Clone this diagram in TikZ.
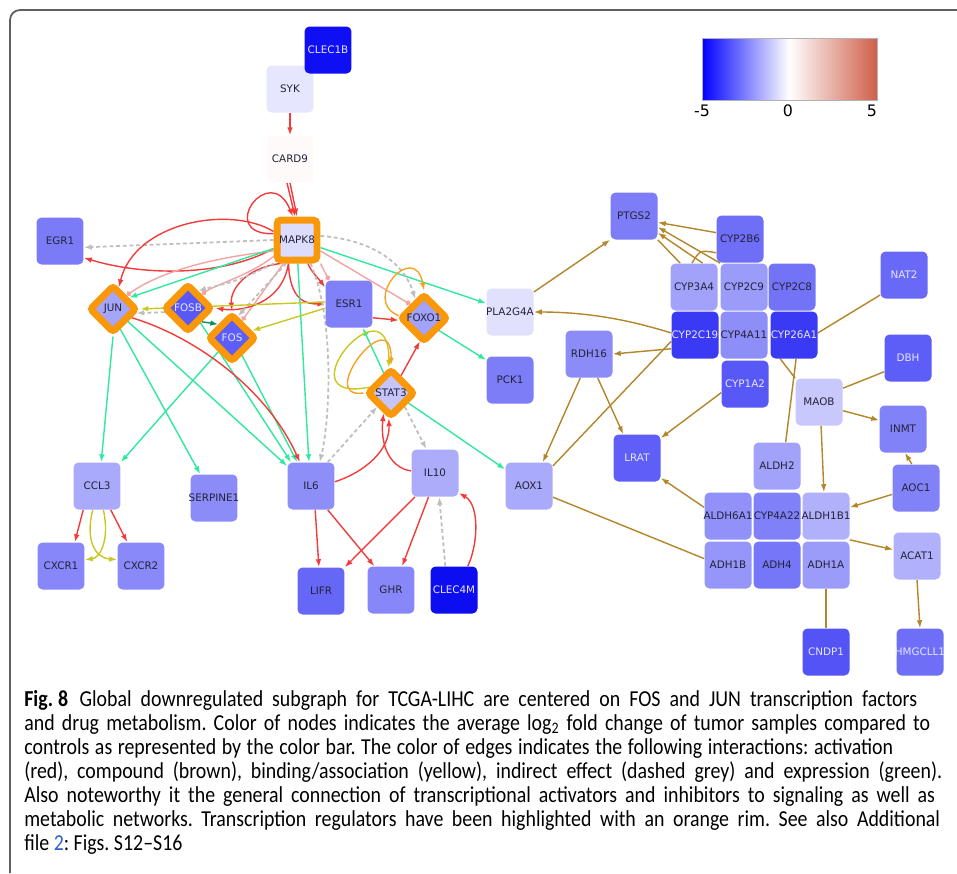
\documentclass[tikz,border=0pt]{standalone}
\usepackage{fontspec}
\newfontfamily\nodefont{DejaVu Sans}
\newfontfamily\capfont[FakeStretch=0.87]{Carlito}
\usetikzlibrary{shapes.geometric,arrows.meta,backgrounds}
\definecolor{nb}{HTML}{0505F2}
\definecolor{rim}{HTML}{F8980A}
\definecolor{actred}{HTML}{F23C3C}
\definecolor{actpink}{HTML}{F4A3A3}
\definecolor{exprgreen}{HTML}{30E89E}
\definecolor{exprdark}{HTML}{138A62}
\definecolor{bindyellow}{HTML}{C9C723}
\definecolor{looporange}{HTML}{F5A324}
\definecolor{indgrey}{HTML}{BEBEBE}
\definecolor{compbrown}{HTML}{B3862A}
\definecolor{cbred}{HTML}{CF5F4A}
\definecolor{linkblue}{HTML}{2F5FD0}
\definecolor{nodetext}{HTML}{23233A}
\newcommand\capline[2]{\makebox[#1cm][s]{#2}}

\begin{document}
\begin{tikzpicture}[x=0.02cm, y=-0.02cm,
  >={Latex[length=4.5pt,width=3.2pt]},
  gene/.style={rectangle, rounded corners=0.1cm, minimum size=0.94cm, inner sep=0pt,
    text=nodetext, font=\nodefont\fontsize{5.9}{6}\selectfont,
    execute at begin node={\hbox to 0pt\bgroup\hss}, execute at end node={\hss\egroup}},
  invtext/.style={text={rgb,255:red,228;green,228;blue,255}},
  regsq/.style={gene, draw=rim, line width=0.14cm, minimum size=0.8cm, rounded corners=0.08cm},
  regdia/.style={gene, diamond, aspect=1, draw=rim, line width=0.14cm, minimum size=0.96cm, rounded corners=0.06cm},
  lnk/.style={line width=0.8pt},
  act/.style={lnk, draw=actred, ->},
  actdot/.style={lnk, draw=actpink, -{Circle[length=3pt]}},
  expr/.style={lnk, draw=exprgreen, ->},
  darkexpr/.style={lnk, draw=exprdark, ->},
  bind/.style={lnk, draw=bindyellow, ->},
  loopst/.style={lnk, draw=looporange, ->},
  indir/.style={line width=1pt, draw=indgrey, dash pattern=on 2.2pt off 1.6pt, ->},
  comp/.style={lnk, draw=compbrown, ->},
  compline/.style={lnk, draw=compbrown}]
\useasboundingbox (0,0) rectangle (957,873);
\draw[gray!75!black, line width=1pt, rounded corners=0.2cm] (10,873) -- (10,10) -- (957,10);

\shade[left color=blue, right color=white] (702,38) rectangle (789,100);
\shade[left color=white, right color=cbred] (789,38) rectangle (877,100);
\draw[gray!60, line width=0.5pt] (702,38) rectangle (877,100);
\node (cbmin) [font=\nodefont\fontsize{9}{10}\selectfont] at (702,111) {-5};
\node (cbmid) [font=\nodefont\fontsize{9}{10}\selectfont] at (788,111) {0};
\node (cbmax) [font=\nodefont\fontsize{9}{10}\selectfont] at (872,111) {5};

\node[gene, fill=nb!10] (syk) at (290,89) {SYK};
\node[gene, fill=nb!96, invtext] (clec1b) at (328,50) {CLEC1B};
\node[gene, fill=red!2] (card9) at (290,159) {CARD9};
\node[regsq, fill=nb!14] (mapk8) at (297,240) {MAPK8};
\node[gene, fill=nb!53] (egr1) at (60,241) {EGR1};
\node[regdia, fill=nb!36] (jun) at (113,309) {JUN};
\node[regdia, fill=nb!67, invtext] (fosb) at (188,308) {FOSB};
\node[regdia, fill=nb!65, invtext] (fos) at (232,338) {FOS};
\node[gene, fill=nb!51] (esr1) at (349,304) {ESR1};
\node[regdia, fill=nb!37] (foxo1) at (424,318) {FOXO1};
\node[regdia, fill=nb!23] (stat3) at (391,393) {STAT3};
\node[gene, fill=nb!12] (pla2g4a) at (510,312) {PLA2G4A};
\node[gene, fill=nb!52] (pck1) at (510,380) {PCK1};
\node[gene, fill=nb!34] (ccl3) at (97,486) {CCL3};
\node[gene, fill=nb!46] (serpine1) at (214,498) {SERPINE1};
\node[gene, fill=nb!45] (il6) at (311,486) {IL6};
\node[gene, fill=nb!33] (il10) at (435,473) {IL10};
\node[gene, fill=nb!48] (cxcr1) at (61,566) {CXCR1};
\node[gene, fill=nb!47] (cxcr2) at (141,566) {CXCR2};
\node[gene, fill=nb!61] (lifr) at (321,591) {LIFR};
\node[gene, fill=nb!48] (ghr) at (391,590) {GHR};
\node[gene, fill=nb!97, invtext] (clec4m) at (454,590) {CLEC4M};

\node[gene, fill=nb!52] (ptgs2) at (634,216) {PTGS2};
\node[gene, fill=nb!58] (cyp2b6) at (740,239) {CYP2B6};
\node[gene, fill=nb!37] (cyp3a4) at (694,287) {CYP3A4};
\node[gene, fill=nb!40] (cyp2c9) at (744,287) {CYP2C9};
\node[gene, fill=nb!56] (cyp2c8) at (792,287) {CYP2C8};
\node[gene, fill=nb!79, invtext] (cyp2c19) at (695,335) {CYP2C19};
\node[gene, fill=nb!45] (cyp4a11) at (744,335) {CYP4A11};
\node[gene, fill=nb!79, invtext] (cyp26a1) at (794,335) {CYP26A1};
\node[gene, fill=nb!67, invtext] (cyp1a2) at (745,384) {CYP1A2};
\node[gene, fill=nb!60, invtext] (nat2) at (904,275) {NAT2};
\node[gene, fill=nb!65, invtext] (dbh) at (908,358) {DBH};
\node[gene, fill=nb!46] (rdh16) at (589,354) {RDH16};
\node[gene, fill=nb!22] (maob) at (819,402) {MAOB};
\node[gene, fill=nb!50] (inmt) at (903,429) {INMT};
\node[gene, fill=nb!34] (aox1) at (529,486) {AOX1};
\node[gene, fill=nb!64, invtext] (lrat) at (637,458) {LRAT};
\node[gene, fill=nb!37] (aldh2) at (777,466) {ALDH2};
\node[gene, fill=nb!50] (aoc1) at (916,488) {AOC1};
\node[gene, fill=nb!44] (aldh6a1) at (728,516) {ALDH6A1};
\node[gene, fill=nb!51] (cyp4a22) at (777,516) {CYP4A22};
\node[gene, fill=nb!31] (aldh1b1) at (826,516) {ALDH1B1};
\node[gene, fill=nb!31] (acat1) at (917,556) {ACAT1};
\node[gene, fill=nb!42] (adh1b) at (728,565) {ADH1B};
\node[gene, fill=nb!55] (adh4) at (777,565) {ADH4};
\node[gene, fill=nb!40] (adh1a) at (826,565) {ADH1A};
\node[gene, fill=nb!69, invtext] (cndp1) at (826,652) {CNDP1};
\node[gene, fill=nb!58, invtext] (hmgcll1) at (920,652) {HMGCLL1};

\begin{scope}[on background layer]
\draw[act] (syk) -- (card9);
\draw[act] (card9.south) -- (mapk8.north);
\draw[act] ([xshift=-0.06cm]card9.south) -- ([xshift=-0.04cm]mapk8.north);
\draw[act] (mapk8.165) .. controls (215,235) and (270,160) .. (mapk8.100);
\draw[act] (mapk8.200) .. controls (220,278) and (140,275) .. (egr1.-35);
\draw[indir] (mapk8.180) -- (egr1.-15);
\draw[act] (mapk8.160) .. controls (230,205) and (135,222) .. (jun.75);
\draw[actdot] (mapk8.205) .. controls (210,258) and (160,272) .. (jun.45);
\draw[actdot] (mapk8.215) .. controls (250,275) and (215,285) .. (fosb.45);
\draw[actdot] (mapk8.240) -- (fos.60);
\draw[actdot] (mapk8.-45) -- (esr1.130);
\draw[actdot] (mapk8.-25) -- (foxo1.135);
\draw[act] (mapk8.250) .. controls (282,305) and (240,312) .. (fosb.east);
\draw[act] (mapk8.235) .. controls (245,268) and (230,290) .. (fos.north);
\draw[act] (mapk8.-110) .. controls (290,300) and (305,304) .. (esr1.west);
\draw[act] (mapk8.-65) .. controls (310,270) and (318,278) .. (esr1.145);
\draw[expr] (mapk8.200) -- (jun.35);
\draw[expr] (mapk8.-88) -- (il6.95);
\draw[expr] (mapk8.-18) -- (pla2g4a.160);
\draw[indir] (mapk8.10) .. controls (375,240) and (405,265) .. (foxo1.115);
\draw[indir] (mapk8.-60) .. controls (335,320) and (330,420) .. (il6.70);
\draw[indir] (mapk8.245) -- (fos.75);
\draw[indir] (mapk8.225) .. controls (240,280) .. (fosb.60);
\draw[indir] (fosb.-170) -- (jun.-10);
\draw[bind] (esr1.175) -- (jun.east);
\draw[bind] (esr1.-170) -- (fos.20);
\draw[darkexpr] (fosb.-45) -- (fos.135);

\draw[expr] (jun.south) -- (ccl3.80);
\draw[expr] (fos.-135) -- (ccl3.45);
\draw[expr] (jun.-70) -- (serpine1.120);
\draw[expr] (jun.-40) -- (il6.140);
\draw[expr] (fosb.-50) -- (il6.130);
\draw[expr] (fos.-60) -- (il6.120);
\draw[act] (jun.-25) .. controls (190,335) and (265,385) .. (il6.115);
\draw[act] (ccl3.-120) -- (cxcr1.60);
\draw[act] (ccl3.-60) -- (cxcr2.120);
\draw[bind] (ccl3.-100) .. controls (85,540) and (95,558) .. (cxcr2.165);
\draw[bind] (ccl3.-75) .. controls (110,540) and (100,558) .. (cxcr1.15);

\draw[act] (il6.-80) -- (lifr.95);
\draw[act] (il6.-55) -- (ghr.125);
\draw[act] (il10.-130) -- (lifr.45);
\draw[act] (il10.-105) -- (ghr.65);
\draw[act] (clec4m.60) .. controls (478,545) and (480,505) .. (il10.-40);
\draw[indir] (clec4m.110) -- (il10.-80);
\draw[act] (il6.10) .. controls (365,472) and (390,450) .. (stat3.-95);
\draw[act] (il10.175) .. controls (390,468) and (380,445) .. (stat3.-110);
\draw[indir] (il6.55) -- (stat3.-135);
\draw[indir] (stat3.-45) -- (il10.110);
\draw[act] (stat3.60) -- (foxo1.-100);
\draw[act] (esr1.-30) -- (foxo1.185);
\draw[expr] (stat3.110) -- (esr1.-60);
\draw[expr] (stat3.-30) -- (aox1.145);
\draw[expr] (foxo1.-40) -- (pck1.140);
\draw[bind] (stat3.165) .. controls (280,405) and (390,275) .. (stat3.95);
\draw[loopst] (stat3.180) .. controls (315,400) and (392,300) .. (stat3.90);
\draw[loopst] (foxo1.175) .. controls (360,300) and (415,240) .. (foxo1.north);

\draw[comp] (pla2g4a.40) -- (ptgs2.-135);
\draw[comp] (cyp2c19.175) .. controls (645,325) and (600,312) .. (pla2g4a.east);
\draw[comp] (cyp2c19.-150) -- (rdh16.east);
\draw[compline] (cyp2c19.-165) -- (aox1.40);
\draw[comp] (rdh16.-110) -- (aox1.60);
\draw[comp] (rdh16.-70) -- (lrat.120);
\draw[comp] (cyp1a2.-160) -- (lrat.40);
\draw[comp] (aldh6a1.160) -- (lrat.-40);
\draw[compline] (aox1.-25) -- (adh1b.165);
\draw[comp] (cyp2b6.165) -- (ptgs2.-15);
\draw[comp] (cyp2c9.135) -- (ptgs2.-25);
\draw[comp] (cyp3a4.70) -- (ptgs2.-35);
\draw[compline] (ptgs2.-45) -- (cyp3a4.120);
\draw[compline] (cyp3a4.95) .. controls (700,250) .. (cyp2b6.-150);
\draw[compline] (cyp26a1.5) -- (nat2.-140);
\draw[compline] (maob.30) -- (dbh.-150);
\draw[comp] (maob.-20) -- (inmt.160);
\draw[compline] (cyp26a1.-120) -- (maob.north west);
\draw[compline] (cyp26a1.-85) -- (aldh2.70);
\draw[comp] (maob.-85) -- (aldh1b1.95);
\draw[comp] (aoc1.100) -- (inmt.-85);
\draw[comp] (aoc1.-165) -- (aldh1b1.20);
\draw[comp] (aldh1b1.-45) -- (acat1.165);
\draw[comp] (acat1.south) -- (hmgcll1.north);
\draw[compline] (adh1a.south) -- (cndp1.north);
\end{scope}

\node (caption) [anchor=north west, inner sep=0pt, align=left,
  font=\capfont\fontsize{13}{13.7}\selectfont\frenchspacing] at (24,690)
  {\capline{17.86}{\textbf{Fig.\hspace{0.22em}8}\hspace{0.5em}Global downregulated subgraph for TCGA-LIHC are centered on FOS and JUN transcription factors}\\
  \capline{18.12}{and drug metabolism. Color of nodes indicates the average log\textsubscript{2} fold change of tumor samples compared to}\\
  \capline{17.38}{controls as represented by the color bar. The color of edges indicates the following interactions: activation}\\
  \capline{18.36}{(red), compound (brown), binding/association (yellow), indirect effect (dashed grey) and expression (green).}\\
  \capline{18.22}{Also noteworthy it the general connection of transcriptional activators and inhibitors to signaling as well as}\\
  \capline{18.32}{metabolic networks. Transcription regulators have been highlighted with an orange rim. See also Additional}\\
  file \textcolor{linkblue}{2}: Figs. S12–S16};
\end{tikzpicture}
\end{document}
